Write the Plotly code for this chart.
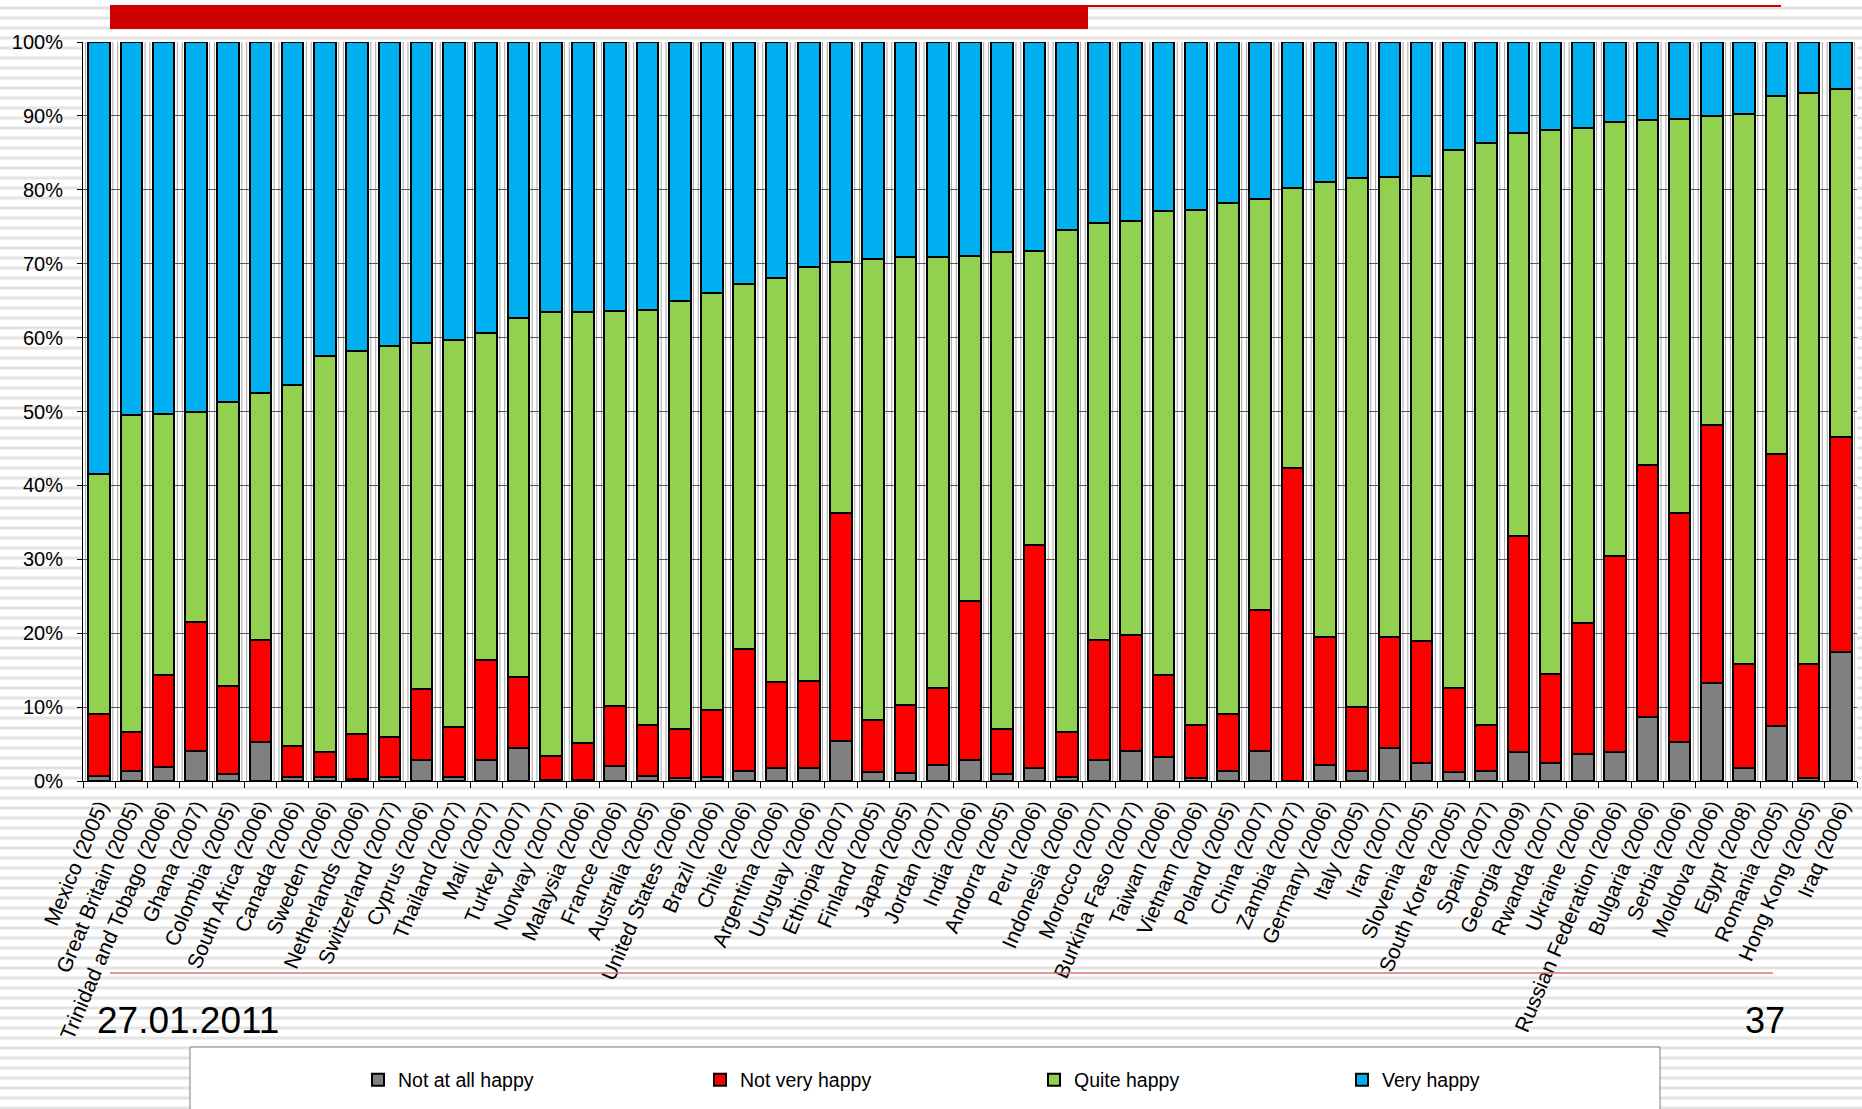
import plotly.graph_objects as go

# Share of respondents per happiness level, World Values Survey wave
countries = [
    "Mexico (2005)", "Great Britain (2005)", "Trinidad and Tobago (2006)", "Ghana (2007)",
    "Colombia (2005)", "South Africa (2006)", "Canada (2006)", "Sweden (2006)",
    "Netherlands (2006)", "Switzerland (2007)", "Cyprus (2006)", "Thailand (2007)",
    "Mali (2007)", "Turkey (2007)", "Norway (2007)", "Malaysia (2006)", "France (2006)",
    "Australia (2005)", "United States (2006)", "Brazil (2006)", "Chile (2006)",
    "Argentina (2006)", "Uruguay (2006)", "Ethiopia (2007)", "Finland (2005)",
    "Japan (2005)", "Jordan (2007)", "India (2006)", "Andorra (2005)", "Peru (2006)",
    "Indonesia (2006)", "Morocco (2007)", "Burkina Faso (2007)", "Taiwan (2006)",
    "Vietnam (2006)", "Poland (2005)", "China (2007)", "Zambia (2007)", "Germany (2006)",
    "Italy (2005)", "Iran (2007)", "Slovenia (2005)", "South Korea (2005)", "Spain (2007)",
    "Georgia (2009)", "Rwanda (2007)", "Ukraine (2006)", "Russian Federation (2006)",
    "Bulgaria (2006)", "Serbia (2006)", "Moldova (2006)", "Egypt (2008)", "Romania (2005)",
    "Hong Kong (2005)", "Iraq (2006)",
]

not_at_all_happy = [
    0.7, 1.3, 1.9, 4.0, 0.9, 5.3, 0.5, 0.5, 0.3, 0.6, 2.8, 0.6, 2.8, 4.5, 0.2, 0.2, 2.0,
    0.7, 0.4, 0.6, 1.4, 1.8, 1.7, 5.4, 1.2, 1.1, 2.1, 2.8, 1.0, 1.8, 0.5, 2.8, 4.0, 3.2,
    0.4, 1.3, 4.0, 0.0, 2.1, 1.4, 4.5, 2.4, 1.2, 1.3, 3.9, 2.4, 3.6, 3.9, 8.7, 5.3, 13.2,
    1.8, 7.5, 0.4, 17.5,
]
not_very_happy = [
    8.3, 5.3, 12.5, 17.5, 12.0, 13.8, 4.2, 3.4, 6.0, 5.4, 9.7, 6.7, 13.6, 9.6, 3.2, 5.0,
    8.1, 6.9, 6.7, 9.0, 16.4, 11.6, 11.9, 30.9, 7.0, 9.2, 10.5, 21.6, 6.1, 30.1, 6.1, 16.3,
    15.7, 11.1, 7.2, 7.8, 19.2, 42.3, 17.4, 8.6, 15.0, 16.6, 11.4, 6.3, 29.2, 12.1, 17.8,
    26.5, 34.0, 30.9, 35.0, 14.0, 36.8, 15.5, 29.0,
]
quite_happy = [
    32.5, 42.9, 35.2, 28.5, 38.4, 33.4, 48.9, 53.6, 51.9, 52.8, 46.8, 52.4, 44.2, 48.5,
    60.0, 58.3, 53.5, 56.1, 57.8, 56.5, 49.5, 54.7, 55.9, 33.9, 62.5, 60.6, 58.3, 46.6,
    64.5, 39.8, 67.9, 56.4, 56.1, 62.8, 69.7, 69.1, 55.6, 37.9, 61.5, 71.6, 62.2, 62.9,
    72.8, 78.8, 54.6, 73.6, 67.0, 58.8, 46.7, 53.4, 41.8, 74.4, 48.4, 77.2, 47.2,
]
very_happy = [
    58.5, 50.5, 50.4, 50.0, 48.7, 47.5, 46.4, 42.5, 41.8, 41.2, 40.7, 40.3, 39.4, 37.4,
    36.6, 36.5, 36.4, 36.3, 35.1, 33.9, 32.7, 31.9, 30.5, 29.8, 29.3, 29.1, 29.1, 29.0,
    28.4, 28.3, 25.5, 24.5, 24.2, 22.9, 22.7, 21.8, 21.2, 19.8, 19.0, 18.4, 18.3, 18.1,
    14.6, 13.6, 12.3, 11.9, 11.6, 10.8, 10.6, 10.4, 10.0, 9.8, 7.3, 6.9, 6.3,
]

series = [
    ("Not at all happy", not_at_all_happy, "#808080"),
    ("Not very happy", not_very_happy, "#FF0000"),
    ("Quite happy", quite_happy, "#92D050"),
    ("Very happy", very_happy, "#00B0F0"),
]

W, H = 1862, 1109
ML, MR, MT, MB = 83, 5, 42, 328
PW, PH = W - ML - MR, H - MT - MB


def px(x):
    """Pixel column -> paper x."""
    return (x - ML) / PW


def py(y):
    """Pixel row (from top) -> paper y."""
    return (H - MB - y) / PH


# left edge of each legend entry, in pixels
legend_left = [358, 700, 1034, 1342]
legend_ids = ["legend", "legend2", "legend3", "legend4"]

fig = go.Figure()
for (name, vals, color), lid in zip(series, legend_ids):
    fig.add_trace(go.Bar(
        x=countries, y=vals, name=name, legend=lid,
        marker=dict(color=color, line=dict(color="#000000", width=2)),
    ))

shapes = []
# striped slide background
for k in range(112):
    y = 8 + 10 * k
    shapes.append(dict(type="line", xref="paper", yref="paper", layer="below",
                       x0=px(0), x1=px(W), y0=py(y), y1=py(y),
                       line=dict(color="#e4e4e4", width=3)))
# white plot area over the stripes
shapes.append(dict(type="rect", xref="paper", yref="paper", layer="below",
                   x0=0, x1=1, y0=0, y1=1, fillcolor="#ffffff", line=dict(width=0)))
# legend frame
shapes.append(dict(type="rect", xref="paper", yref="paper", layer="below",
                   x0=px(190), x1=px(1660), y0=py(1047), y1=py(1120),
                   fillcolor="#ffffff", line=dict(color="#7f7f7f", width=1)))
# paired vertical rules on category boundaries
for i in range(len(countries) + 1):
    for d in (-0.075, 0.075):
        shapes.append(dict(type="line", xref="x", yref="paper", layer="below",
                           x0=i - 0.5 + d, x1=i - 0.5 + d, y0=0, y1=1,
                           line=dict(color="#a6a6a6", width=1)))
# title bar and rules of the slide
shapes += [
    dict(type="rect", xref="paper", yref="paper", layer="above",
         x0=px(110), x1=px(1088), y0=py(29), y1=py(5),
         fillcolor="#CC0000", line=dict(width=0)),
    dict(type="line", xref="paper", yref="paper", layer="above",
         x0=px(1088), x1=px(1781), y0=py(6), y1=py(6),
         line=dict(color="#CC0000", width=2)),
    dict(type="line", xref="paper", yref="paper", layer="above",
         x0=px(110), x1=px(1773), y0=py(973), y1=py(973),
         line=dict(color="#e27272", width=1.5)),
]

annotations = [
    dict(text="27.01.2011", xref="paper", yref="paper", x=px(95), y=py(1020),
         xanchor="left", yanchor="middle", showarrow=False,
         font=dict(size=37, color="#000000")),
    dict(text="37", xref="paper", yref="paper", x=px(1787), y=py(1020),
         xanchor="right", yanchor="middle", showarrow=False,
         font=dict(size=36, color="#000000")),
]

legend_style = dict(orientation="h", y=py(1080), xanchor="left", yanchor="middle",
                    bgcolor="rgba(0,0,0,0)", font=dict(size=19.5), itemwidth=30)

fig.update_layout(
    width=W, height=H,
    margin=dict(l=ML, r=MR, t=MT, b=MB, pad=0),
    barmode="stack", bargap=0.33,
    paper_bgcolor="#ffffff", plot_bgcolor="rgba(0,0,0,0)",
    font=dict(family="Liberation Sans, Arial, sans-serif", color="#000000"),
    shapes=shapes, annotations=annotations,
    showlegend=True,
    hovermode=False,
)
for lid, left in zip(legend_ids, legend_left):
    fig.update_layout({lid: dict(legend_style, x=px(left))})

fig.update_xaxes(
    type="category", tickson="boundaries", ticks="outside", ticklen=6, tickcolor="#000000",
    showline=True, linecolor="#000000", linewidth=1, showgrid=False,
    tickangle=-67, tickfont=dict(size=21), ticklabelstandoff=4,
    range=[-0.5, len(countries) - 0.5],
)
fig.update_yaxes(
    range=[0, 100], dtick=10, ticksuffix="%", ticks="outside", ticklen=5,
    tickcolor="#000000", showline=True, linecolor="#000000", linewidth=1,
    showgrid=True, gridcolor="#595959", gridwidth=1, zeroline=False,
    tickfont=dict(size=20), ticklabelstandoff=10,
)

fig.write_html("out.html")
